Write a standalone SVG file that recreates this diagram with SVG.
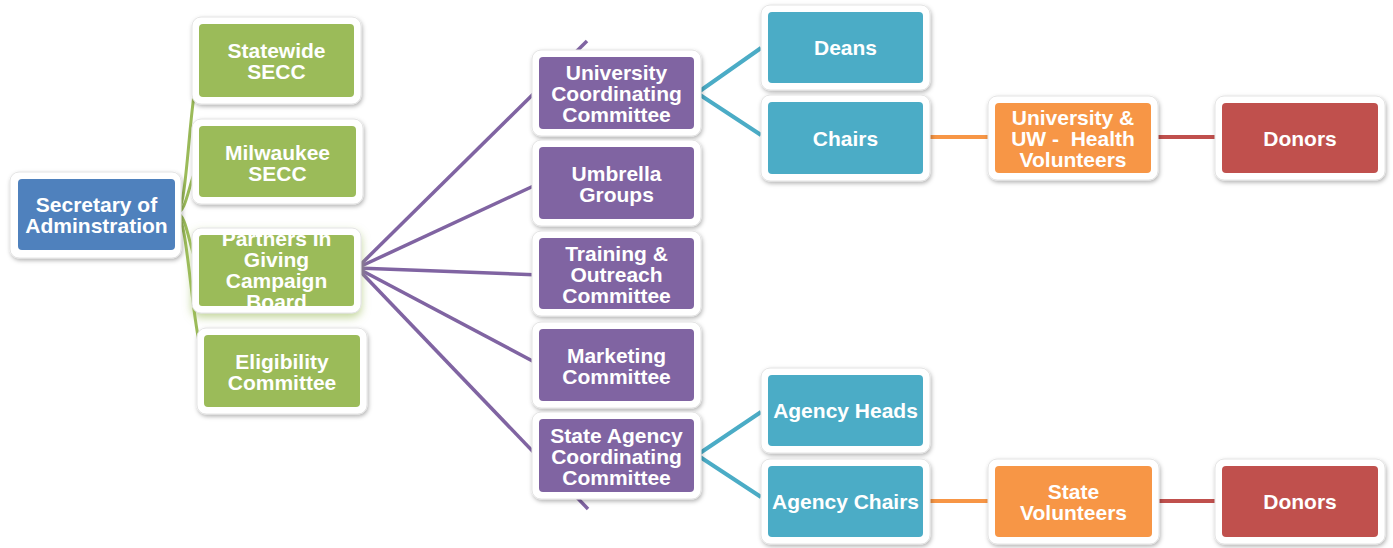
<svg xmlns="http://www.w3.org/2000/svg" width="1393" height="548" viewBox="0 0 1393 548">
<defs>
<style>
.frame{fill:#ffffff;stroke:#e4e4e4;stroke-width:1;filter:url(#sh)}
.t{font-family:"Liberation Sans",Arial,sans-serif;font-weight:bold;font-size:21px;fill:#ffffff;text-anchor:middle}
.blue{fill:#4F81BD}.green{fill:#9BBB59}.purple{fill:#8064A2}.teal{fill:#4BACC6}.orange{fill:#F79646}.red{fill:#C0504D}
.cg{fill:none;stroke:#9BBB59;stroke-width:3}
.cp{fill:none;stroke:#8064A2;stroke-width:3.5}
.ct{fill:none;stroke:#4BACC6;stroke-width:4}
.co{fill:none;stroke:#F79646;stroke-width:4}
.cr{fill:none;stroke:#C0504D;stroke-width:4}
</style>
<filter id="sh" x="-10%" y="-10%" width="125%" height="135%">
<feDropShadow dx="1" dy="2" stdDeviation="2" flood-color="#000000" flood-opacity="0.3"/>
</filter>
<filter id="glow" x="-20%" y="-20%" width="140%" height="150%">
<feDropShadow dx="0" dy="4" stdDeviation="4" flood-color="#9BBB59" flood-opacity="0.6"/>
</filter>
<clipPath id="clipPartners"><rect x="199" y="235" width="155" height="71"/></clipPath>
</defs>

<g id="connectors">
<path class="cg" d="M176,213 C190,213 188,60 206,60"/>
<path class="cg" d="M176,213 C190,213 189,161 206,161"/>
<path class="cg" d="M176,213 C190,213 189,270 206,270"/>
<path class="cg" d="M176,213 C190,213 192,371 212,371"/>
<line class="cp" x1="357" y1="268" x2="587" y2="41"/>
<line class="cp" x1="357" y1="268" x2="540" y2="183"/>
<line class="cp" x1="357" y1="268" x2="540" y2="275"/>
<line class="cp" x1="357" y1="268" x2="540" y2="365"/>
<line class="cp" x1="357" y1="268" x2="588" y2="509"/>
<polyline class="ct" points="761,48 697,93 761,135"/>
<polyline class="ct" points="761,412 697,455 761,497"/>
<line class="co" x1="929" y1="137" x2="990" y2="137"/>
<line class="cr" x1="1156" y1="137" x2="1217" y2="137"/>
<line class="co" x1="929" y1="501" x2="990" y2="501"/>
<line class="cr" x1="1156" y1="501" x2="1217" y2="501"/>
</g>

<g id="secretary">
<rect class="frame" x="10" y="172" width="171" height="86" rx="9"/>
<rect class="blue" x="18" y="179" width="157" height="71" rx="4"/>
<text class="t" x="96.5" y="211.5">Secretary of</text>
<text class="t" x="96.5" y="232.5">Adminstration</text>
</g>

<g id="statewide">
<rect class="frame" x="192" y="17" width="169" height="87" rx="9"/>
<rect class="green" x="199" y="24" width="155" height="73" rx="4"/>
<text class="t" x="276.5" y="57.5">Statewide</text>
<text class="t" x="276.5" y="78.5">SECC</text>
</g>

<g id="milwaukee">
<rect class="frame" x="192" y="119" width="171" height="85" rx="9"/>
<rect class="green" x="199" y="126" width="157" height="71" rx="4"/>
<text class="t" x="277.5" y="159.5">Milwaukee</text>
<text class="t" x="277.5" y="180.5">SECC</text>
</g>

<g id="partners">
<rect class="frame" x="192" y="228" width="169" height="85" rx="9" style="filter:url(#glow)"/>
<rect class="green" x="199" y="235" width="155" height="71" rx="3"/>
<g clip-path="url(#clipPartners)">
<text class="t" x="276.5" y="246">Partners In</text>
<text class="t" x="276.5" y="267">Giving</text>
<text class="t" x="276.5" y="288">Campaign</text>
<text class="t" x="276.5" y="309">Board</text>
</g>
</g>

<g id="eligibility">
<rect class="frame" x="197" y="328" width="170" height="86" rx="9"/>
<rect class="green" x="204" y="335" width="156" height="72" rx="4"/>
<text class="t" x="282" y="368.5">Eligibility</text>
<text class="t" x="282" y="389.5">Committee</text>
</g>

<g id="university">
<rect class="frame" x="532" y="50" width="169" height="86" rx="9"/>
<rect class="purple" x="539" y="57" width="155" height="72" rx="4"/>
<text class="t" x="616.5" y="80">University</text>
<text class="t" x="616.5" y="101">Coordinating</text>
<text class="t" x="616.5" y="122">Committee</text>
</g>

<g id="umbrella">
<rect class="frame" x="532" y="140" width="169" height="86" rx="9"/>
<rect class="purple" x="539" y="147" width="155" height="72" rx="4"/>
<text class="t" x="616.5" y="180.5">Umbrella</text>
<text class="t" x="616.5" y="201.5">Groups</text>
</g>

<g id="training">
<rect class="frame" x="532" y="231" width="169" height="85" rx="9"/>
<rect class="purple" x="539" y="238" width="155" height="71" rx="4"/>
<text class="t" x="616.5" y="261">Training &amp;</text>
<text class="t" x="616.5" y="282">Outreach</text>
<text class="t" x="616.5" y="303">Committee</text>
</g>

<g id="marketing">
<rect class="frame" x="532" y="322" width="169" height="86" rx="9"/>
<rect class="purple" x="539" y="329" width="155" height="72" rx="4"/>
<text class="t" x="616.5" y="362.5">Marketing</text>
<text class="t" x="616.5" y="383.5">Committee</text>
</g>

<g id="stateagency">
<rect class="frame" x="532" y="412" width="169" height="87" rx="9"/>
<rect class="purple" x="539" y="419" width="155" height="73" rx="4"/>
<text class="t" x="616.5" y="442.5">State Agency</text>
<text class="t" x="616.5" y="463.5">Coordinating</text>
<text class="t" x="616.5" y="484.5">Committee</text>
</g>

<g id="deans">
<rect class="frame" x="761" y="5" width="169" height="85" rx="9"/>
<rect class="teal" x="768" y="12" width="155" height="71" rx="4"/>
<text class="t" x="845.5" y="55">Deans</text>
</g>

<g id="chairs">
<rect class="frame" x="761" y="95" width="169" height="86" rx="9"/>
<rect class="teal" x="768" y="102" width="155" height="72" rx="4"/>
<text class="t" x="845.5" y="145.5">Chairs</text>
</g>

<g id="uwvolunteers">
<rect class="frame" x="988" y="96" width="170" height="84" rx="9"/>
<rect class="orange" x="995" y="103" width="156" height="70" rx="4"/>
<text class="t" x="1073" y="125">University &amp;</text>
<text class="t" x="1073" y="146" xml:space="preserve">UW -  Health</text>
<text class="t" x="1073" y="167">Volunteers</text>
</g>

<g id="donors1">
<rect class="frame" x="1215" y="96" width="170" height="84" rx="9"/>
<rect class="red" x="1222" y="103" width="156" height="70" rx="4"/>
<text class="t" x="1300" y="145.5">Donors</text>
</g>

<g id="agencyheads">
<rect class="frame" x="761" y="368" width="169" height="85" rx="9"/>
<rect class="teal" x="768" y="375" width="155" height="71" rx="4"/>
<text class="t" x="845.5" y="418">Agency Heads</text>
</g>

<g id="agencychairs">
<rect class="frame" x="761" y="459" width="169" height="85" rx="9"/>
<rect class="teal" x="768" y="466" width="155" height="71" rx="4"/>
<text class="t" x="845.5" y="509">Agency Chairs</text>
</g>

<g id="statevolunteers">
<rect class="frame" x="988" y="459" width="171" height="85" rx="9"/>
<rect class="orange" x="995" y="466" width="157" height="71" rx="4"/>
<text class="t" x="1073.5" y="498.5">State</text>
<text class="t" x="1073.5" y="519.5">Volunteers</text>
</g>

<g id="donors2">
<rect class="frame" x="1215" y="459" width="170" height="85" rx="9"/>
<rect class="red" x="1222" y="466" width="156" height="71" rx="4"/>
<text class="t" x="1300" y="509">Donors</text>
</g>
</svg>
